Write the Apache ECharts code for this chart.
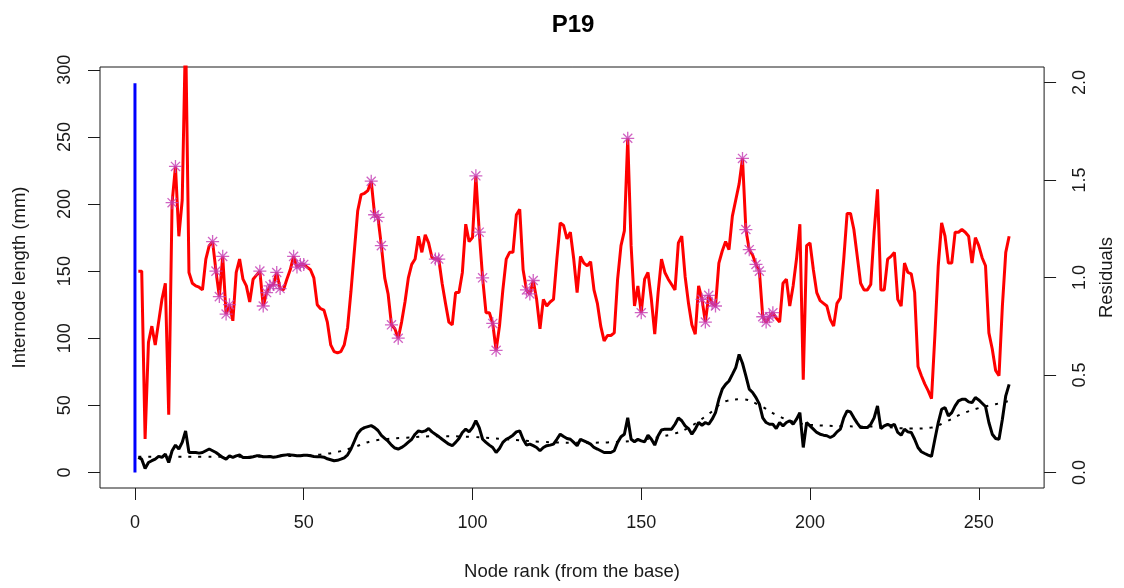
<!DOCTYPE html>
<html>
<head>
<meta charset="utf-8">
<script src="https://cdn.jsdelivr.net/npm/echarts@6/dist/echarts.min.js"></script>
<style>
  html, body { margin: 0; padding: 0; background: #fff; }
  #p19 { width: 1124px; height: 588px; }
</style>
</head>
<body>
<div id="p19"></div>
<script>
// internode length (mm) for node ranks 1..259
const internodeLength = [
  150, 150, 25, 97, 109, 95, 112, 129, 141, 43,
  201, 228, 176, 203, 330, 149, 141, 139, 138, 136,
  159, 169, 172, 150, 131, 161, 118, 125, 113, 149,
  159, 144, 139, 127, 144, 147, 150, 124, 134, 139,
  140, 149, 137, 136, 144, 151, 161, 153, 155, 155,
  153, 151, 145, 125, 122, 121, 112, 95, 90, 89,
  90, 95, 108, 135, 165, 195, 207, 208, 210, 217,
  192, 190, 169, 145, 133, 110, 107, 100, 112, 127,
  145, 155, 159, 176, 164, 177, 171, 160, 159, 159,
  141, 126, 112, 110, 134, 134, 149, 185, 172, 175,
  221, 179, 145, 119, 119, 111, 91, 109, 136, 159,
  164, 164, 192, 196, 151, 136, 133, 143, 129, 107,
  129, 124, 127, 129, 159, 186, 184, 174, 179, 159,
  134, 161, 156, 154, 157, 136, 126, 109, 98, 102,
  102, 104, 144, 169, 180, 249, 169, 124, 139, 119,
  144, 149, 129, 103, 134, 159, 149, 144, 140, 136,
  171, 176, 146, 126, 110, 103, 139, 129, 112, 132,
  126, 124, 156, 165, 172, 166, 191, 203, 215, 234,
  181, 166, 162, 155, 150, 116, 112, 116, 119, 115,
  112, 141, 144, 124, 139, 159, 185, 69, 169, 171,
  151, 134, 128, 126, 124, 114, 109, 126, 130, 159,
  193, 193, 181, 161, 141, 136, 136, 140, 179, 211,
  136, 136, 159, 161, 164, 129, 124, 156, 149, 148,
  134, 79, 72, 66, 61, 55, 102, 154, 186, 176,
  156, 156, 179, 179, 181, 179, 176, 156, 175, 169,
  160, 154, 104, 92, 76, 72, 124, 164, 176
];

// residuals for the same node ranks (right axis)
const residuals = [
  0.077, 0.068, 0.020, 0.051, 0.060, 0.068, 0.082, 0.077, 0.094, 0.051,
  0.111, 0.140, 0.120, 0.154, 0.213, 0.102, 0.102, 0.102, 0.099, 0.102,
  0.111, 0.120, 0.111, 0.102, 0.089, 0.077, 0.068, 0.085, 0.077, 0.085,
  0.089, 0.077, 0.077, 0.077, 0.080, 0.085, 0.085, 0.080, 0.080, 0.082,
  0.078, 0.080, 0.085, 0.088, 0.090, 0.090, 0.088, 0.085, 0.085, 0.088,
  0.088, 0.085, 0.082, 0.080, 0.080, 0.078, 0.070, 0.065, 0.060, 0.062,
  0.068, 0.075, 0.090, 0.120, 0.160, 0.200, 0.220, 0.230, 0.235, 0.240,
  0.230, 0.215, 0.190, 0.175, 0.160, 0.140, 0.125, 0.120, 0.128, 0.140,
  0.155, 0.170, 0.196, 0.213, 0.208, 0.213, 0.225, 0.208, 0.196, 0.184,
  0.170, 0.157, 0.145, 0.137, 0.154, 0.174, 0.205, 0.222, 0.208, 0.230,
  0.265, 0.230, 0.170, 0.154, 0.140, 0.128, 0.102, 0.123, 0.154, 0.170,
  0.179, 0.191, 0.208, 0.213, 0.170, 0.140, 0.145, 0.137, 0.128, 0.111,
  0.128, 0.137, 0.140, 0.145, 0.170, 0.196, 0.184, 0.174, 0.170, 0.154,
  0.137, 0.170, 0.162, 0.154, 0.145, 0.128, 0.120, 0.111, 0.102, 0.102,
  0.102, 0.111, 0.154, 0.183, 0.196, 0.280, 0.170, 0.157, 0.170, 0.162,
  0.157, 0.191, 0.170, 0.140, 0.188, 0.218, 0.222, 0.222, 0.222, 0.247,
  0.280, 0.265, 0.239, 0.225, 0.196, 0.222, 0.256, 0.242, 0.256, 0.247,
  0.273, 0.307, 0.375, 0.427, 0.452, 0.469, 0.503, 0.538, 0.605, 0.560,
  0.495, 0.427, 0.410, 0.384, 0.350, 0.280, 0.256, 0.247, 0.247, 0.225,
  0.256, 0.239, 0.256, 0.265, 0.247, 0.273, 0.307, 0.128, 0.256, 0.239,
  0.222, 0.205, 0.196, 0.191, 0.188, 0.179, 0.188, 0.208, 0.222, 0.280,
  0.316, 0.310, 0.280, 0.253, 0.230, 0.230, 0.230, 0.247, 0.280, 0.341,
  0.225, 0.239, 0.247, 0.239, 0.247, 0.205, 0.191, 0.222, 0.208, 0.205,
  0.170, 0.128, 0.106, 0.097, 0.089, 0.082, 0.170, 0.256, 0.324, 0.333,
  0.290, 0.307, 0.341, 0.367, 0.375, 0.375, 0.362, 0.358, 0.384, 0.372,
  0.355, 0.338, 0.256, 0.196, 0.174, 0.170, 0.273, 0.393, 0.452
];

// smoothed residual trend (dotted)
const trendRank = [1, 10, 20, 30, 40, 50, 55, 60, 65, 70, 75, 80, 90, 100, 110, 120, 130, 140,
  150, 160, 165, 170, 175, 180, 185, 190, 195, 200, 210, 220, 230, 236, 240, 245, 250, 255, 259];
const trendResidual = [0.080, 0.080, 0.080, 0.080, 0.082, 0.086, 0.092, 0.105, 0.130, 0.160, 0.172,
  0.178, 0.186, 0.182, 0.170, 0.157, 0.152, 0.154, 0.168, 0.200, 0.240, 0.300, 0.365, 0.375,
  0.345, 0.295, 0.260, 0.245, 0.237, 0.235, 0.225, 0.230, 0.258, 0.300, 0.330, 0.350, 0.367];

// ranks flagged with an asterisk
const flaggedRank = [11, 12, 23, 24, 25, 26, 27, 28, 37, 38, 39, 40, 41, 42, 43, 47, 48, 49, 50,
  70, 71, 72, 73, 76, 78, 89, 90, 101, 102, 103, 106, 107, 116, 117, 118, 146, 150,
  168, 169, 170, 171, 172, 180, 181, 182, 184, 185, 186, 187, 188, 189];

// vertical blue bar at the base
const baseRank = [0, 0];
const baseLength = [0, 290];

const xTicks = [0, 50, 100, 150, 200, 250];
const leftTicks = [0, 50, 100, 150, 200, 250, 300];
const rightTicks = [0, 0.5, 1, 1.5, 2];

const FONT = 'Liberation Sans, Arial, sans-serif';
const INK = '#1a1a1a';

const lengthData = internodeLength.map((v, i) => [i + 1, v]);
const residualData = residuals.map((v, i) => [i + 1, v]);
const trendData = trendRank.map((r, i) => [r, trendResidual[i]]);
const flaggedData = flaggedRank.map(r => [r, internodeLength[r - 1]]);
const baseData = baseRank.map((r, i) => [r, baseLength[i]]);

var chartDom = document.getElementById('p19');
var myChart = echarts.init(chartDom);

const tickStyle = { show: true, inside: false, length: 12, lineStyle: { color: INK, width: 1 } };

var option = {
  animation: false,
  backgroundColor: '#fff',
  title: {
    text: 'P19',
    left: 568,
    top: 8,
    textAlign: 'center',
    textStyle: { fontFamily: FONT, fontSize: 24, fontWeight: 'bold', color: '#000' }
  },
  grid: {
    show: true,
    left: 100, right: 74, top: 67, bottom: 100,
    borderColor: INK, borderWidth: 1,
    backgroundColor: 'transparent'
  },
  xAxis: {
    type: 'value',
    min: -10.36, max: 269.36,
    name: 'Node rank (from the base)',
    nameLocation: 'middle',
    nameGap: 74,
    nameTextStyle: { fontFamily: FONT, fontSize: 18.5, color: INK },
    axisLine: { show: false, onZero: false },
    splitLine: { show: false },
    axisTick: Object.assign({ customValues: xTicks }, tickStyle),
    axisLabel: { customValues: xTicks, margin: 26, fontFamily: FONT, fontSize: 18, color: INK }
  },
  yAxis: [
    {
      type: 'value',
      position: 'left',
      min: -11.62, max: 302.12,
      name: 'Internode length (mm)',
      nameLocation: 'middle',
      nameGap: 71,
      nameTextStyle: { fontFamily: FONT, fontSize: 18.5, color: INK },
      axisLine: { show: false, onZero: false },
      splitLine: { show: false },
      axisTick: Object.assign({ customValues: leftTicks }, tickStyle),
      axisLabel: { customValues: leftTicks, rotate: 90, margin: 26, fontFamily: FONT, fontSize: 18, color: INK }
    },
    {
      type: 'value',
      position: 'right',
      min: -0.08, max: 2.08,
      name: 'Residuals',
      nameLocation: 'middle',
      nameGap: 50,
      nameTextStyle: { fontFamily: FONT, fontSize: 18.5, color: INK },
      axisLine: { show: false, onZero: false },
      splitLine: { show: false },
      axisTick: Object.assign({ customValues: rightTicks }, tickStyle),
      axisLabel: {
        customValues: rightTicks, rotate: 90, margin: 27,
        fontFamily: FONT, fontSize: 18, color: INK,
        formatter: v => Number(v).toFixed(1)
      }
    }
  ],
  series: [
    {
      name: 'Internode length',
      type: 'line',
      yAxisIndex: 0,
      data: lengthData,
      showSymbol: false,
      clip: true,
      lineStyle: { color: '#ff0000', width: 3 },
      z: 2
    },
    {
      name: 'Base',
      type: 'line',
      yAxisIndex: 0,
      data: baseData,
      showSymbol: false,
      lineStyle: { color: '#0000ff', width: 3 },
      z: 3
    },
    {
      name: 'Flagged',
      type: 'scatter',
      yAxisIndex: 0,
      data: flaggedData,
      symbol: 'path://M5,0L5,10M0,5L10,5M1.5,1.5L8.5,8.5M8.5,1.5L1.5,8.5',
      symbolSize: 13,
      itemStyle: { color: 'rgba(0,0,0,0)', borderColor: '#c43cb4', borderWidth: 1.3 },
      z: 4
    },
    {
      name: 'Residuals',
      type: 'line',
      yAxisIndex: 1,
      data: residualData,
      showSymbol: false,
      lineStyle: { color: '#000', width: 3 },
      z: 5
    },
    {
      name: 'Trend',
      type: 'line',
      yAxisIndex: 1,
      data: trendData,
      smooth: 0.4,
      showSymbol: false,
      lineStyle: { color: '#000', width: 2, type: [3, 7] },
      z: 6
    }
  ]
};

option && myChart.setOption(option);
</script>
</body>
</html>
